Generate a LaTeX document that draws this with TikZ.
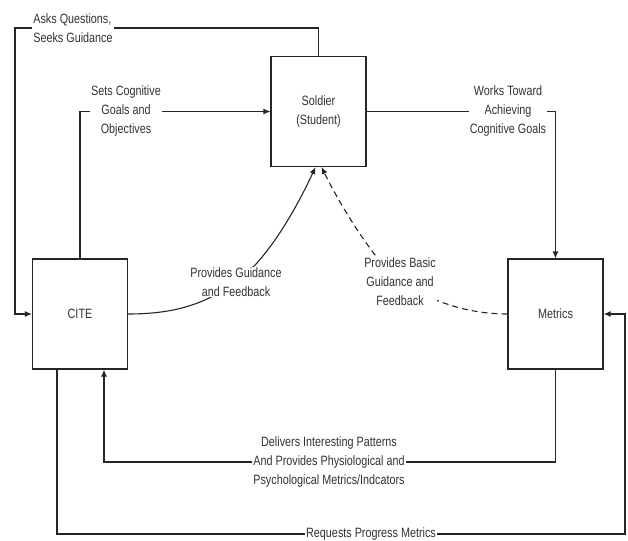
\documentclass[tikz,border=0pt]{standalone}
\usepackage{fontspec}
\setmainfont{Liberation Sans}[FakeStretch=0.8]
\usetikzlibrary{positioning,arrows.meta}
\usetikzlibrary{backgrounds}

\begin{document}
\begin{tikzpicture}[x=1pt,y=-1pt,>={Latex[length=7pt,width=6pt]},
                line width=1.1pt,
                every node/.style={font=\fontsize{13.5}{19}\selectfont, text=black!80},
                block/.style={rectangle, draw=black!85, fill=white, align=center, minimum width=95pt, minimum height=110pt},
                lbl/.style={fill=white, inner sep=1pt, align=center},
                lblleft/.style={fill=white, inner sep=1pt, align=left}]
            \useasboundingbox (0,0) rectangle (628,540);

            % the three units
            \node[block] (soldier) at (318.5,111.5) {Soldier\\(Student)};
            \node[block] (cite) at (80,314) {CITE};
            \node[block] (metrics) at (555.5,314) {Metrics};

            % corner points of the loops
            \coordinate (askL) at (15,28);
            \coordinate (delivL) at (104,462);
            \coordinate (reqL) at (57,534);
            \coordinate (reqR) at (625,534);

            \begin{scope}[draw=black!85]
                \draw[->] (soldier.north) |- (askL) |- (cite.west);
                \draw[->] (cite.north) |- (soldier.west);
                \draw[->] (soldier.east) -| (metrics.north);
                \draw[->] (metrics.south) |- (delivL) -- (delivL |- cite.south);
                \draw[->] (reqL |- cite.south) -- (reqL) -- (reqR) |- (metrics.east);
                \draw[->] (cite.east) .. controls (175,314) and (205,304) .. (236,282)
                          .. controls (268,260) and (298,205) .. ([xshift=-3pt]soldier.south);
                \draw[->, dash pattern=on 6pt off 4pt] (metrics.west) .. controls (465,314) and (430,300) .. (400,282)
                          .. controls (375,262) and (340,205) .. ([xshift=3pt]soldier.south);
            \end{scope}

            % labels on the connectors
            \node[lblleft] (asks) at (73,28) {Asks Questions,\\Seeks Guidance};
            \node[lbl] (sets) at (126,111) {Sets Cognitive\\Goals and\\Objectives};
            \node[lbl] (works) at (508,111) {Works Toward\\Achieving\\Cognitive Goals};
            \node[lbl] (guid) at (236,282) {Provides Guidance\\and Feedback};
            \node[lbl] (basic) at (400,282) {Provides Basic\\Guidance and\\Feedback};
            \node[lbl] (deliv) at (329,462) {Delivers Interesting Patterns\\And Provides Physiological and\\Psychological Metrics/Indcators};
            \node[lbl] (req) at (371,534) {Requests Progress Metrics};
        \end{tikzpicture}
\end{document}
